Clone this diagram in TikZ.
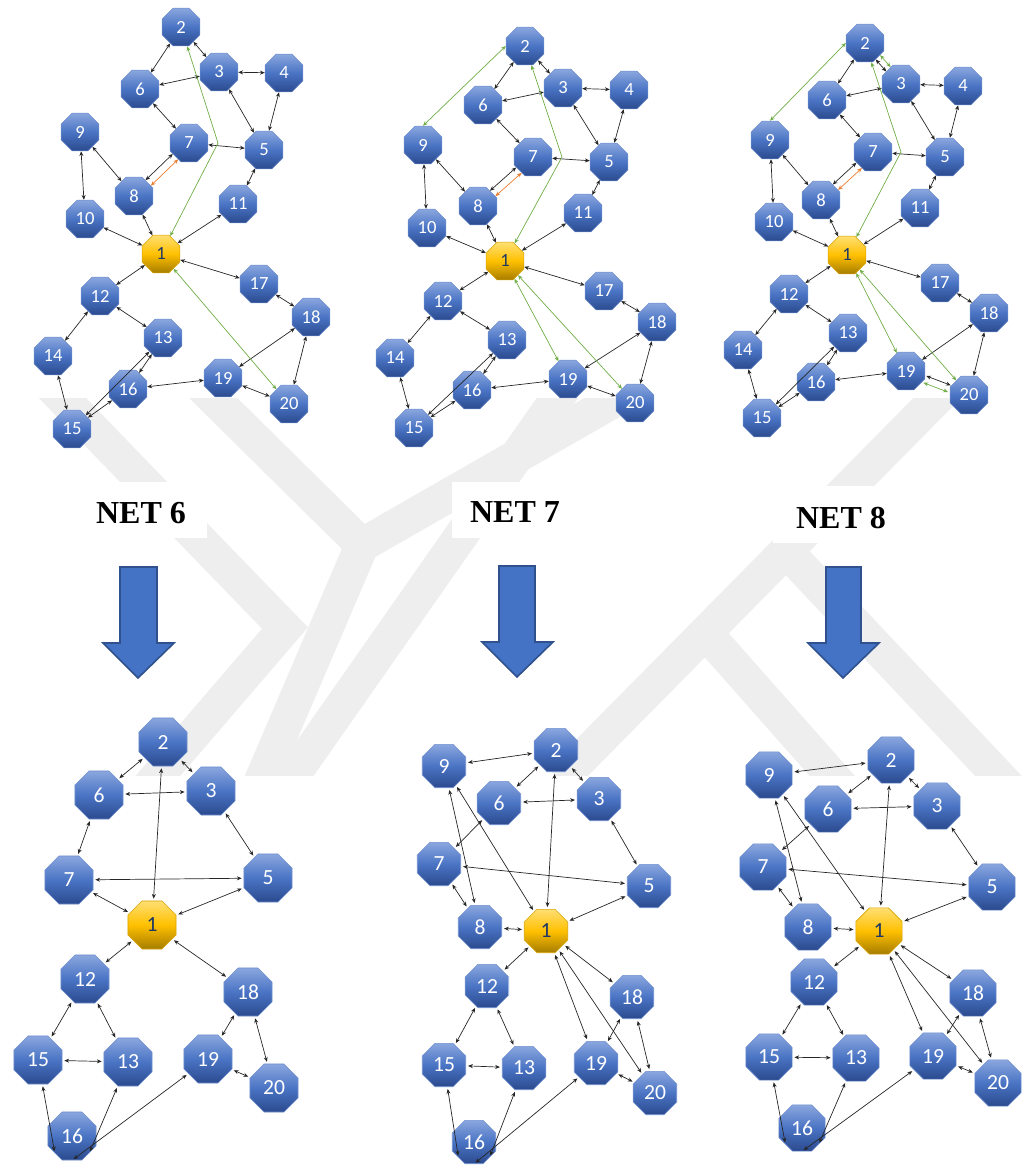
\documentclass[tikz,border=0pt]{standalone}
\usepackage{fontspec}
\setmainfont{Liberation Serif}
\newfontfamily\numfont{Carlito}
\usetikzlibrary{shapes.geometric,arrows.meta}
\definecolor{octtop}{HTML}{8AA6DE}
\definecolor{octmid}{HTML}{4A74C4}
\definecolor{octbot}{HTML}{2B4A8E}
\definecolor{octline}{HTML}{6F8FD0}
\definecolor{hubtop}{HTML}{FFDF73}
\definecolor{hubmid}{HTML}{FFC000}
\definecolor{hubbot}{HTML}{A57C00}
\definecolor{hubtxt}{HTML}{1F3864}
\definecolor{lnkgreen}{HTML}{70AD47}
\definecolor{lnkorange}{HTML}{ED7D31}
\definecolor{bigarrow}{HTML}{4472C4}
\definecolor{bigarrowline}{HTML}{2F528F}
\definecolor{wmark}{HTML}{EEEEEE}
\tikzset{
  oct/.style={regular polygon,regular polygon sides=8,minimum size=20.5pt,inner sep=0pt,
    top color=octtop,bottom color=octbot,middle color=octmid,draw=octline,line width=0.3pt,
    text=white,font=\numfont\fontsize{9.3}{9.3}\selectfont},
  octb/.style={oct,minimum size=26pt,font=\numfont\fontsize{10.8}{10.8}\selectfont},
  hub/.style={top color=hubtop,bottom color=hubbot,middle color=hubmid,draw=hubmid!85!black,text=hubtxt},
  link/.style={{Stealth[length=2.4pt,width=2pt]}-{Stealth[length=2.4pt,width=2pt]},line width=0.35pt,black!85},
  blink/.style={link,shorten <=1pt,shorten >=1pt},
  glink/.style={link,lnkgreen},
  olink/.style={link,lnkorange},
  wband/.style={wmark,line width=17pt,line join=miter},
  netlabel/.style={font=\fontsize{16}{16}\selectfont\bfseries,inner sep=0pt},
  downarrow/.style={fill=bigarrow,draw=bigarrowline,line width=0.8pt,line join=miter}
}
\begin{document}
\begin{tikzpicture}[x=0.5pt,y=-0.5pt]
\useasboundingbox (0,0) rectangle (1029,1174);
% faint logo behind everything
\begin{scope}
\clip (0,398) rectangle (1029,775);
\draw[wband] (45,380) -- (285,628) -- (120,820);
\draw[wband] (195,380) -- (362,545);
\draw[wband] (650,380) -- (362,545) -- (240,830);
\draw[wband] (570,380) -- (255,830);
\draw[wband] (955,380) -- (560,780);
\draw[wband] (712,640) -- (880,830);
\draw[wband] (790,555) -- (1040,820);
\end{scope}
\fill[white] (93,482) rectangle (207,538);
\fill[white] (452,482) rectangle (583,538);
\fill[white] (773,486) rectangle (895,543);

% NET 6 before
\node[oct] (a2) at (181,27) {2};
\node[oct] (a3) at (219,72) {3};
\node[oct] (a4) at (284,73) {4};
\node[oct] (a6) at (140,89) {6};
\node[oct] (a9) at (80,132) {9};
\node[oct] (a7) at (189,143) {7};
\node[oct] (a5) at (264,150) {5};
\node[oct] (a8) at (134,196) {8};
\node[oct] (a10) at (85,219) {10};
\node[oct] (a11) at (238,204) {11};
\node[oct,hub] (a1) at (161,254) {1};
\node[oct] (a12) at (100,296) {12};
\node[oct] (a17) at (259,284) {17};
\node[oct] (a18) at (311,317) {18};
\node[oct] (a13) at (163,338) {13};
\node[oct] (a14) at (53,356) {14};
\node[oct] (a16) at (128,389) {16};
\node[oct] (a19) at (223,378) {19};
\node[oct] (a20) at (289,404) {20};
\node[oct] (a15) at (72,429) {15};
\coordinate (ak) at (218,143);
\draw[link] (a2)--(a6); \draw[link] (a2)--(a3); \draw[link] (a3)--(a6); \draw[link] (a3)--(a4);
\draw[link] (a3)--(a5); \draw[link] (a4)--(a5); \draw[link] (a6)--(a7); \draw[link] (a7)--(a5);
\draw[link] (a9)--(a8); \draw[link] (a9)--(a10); \draw[link] (a8)--(a1); \draw[link] (a10)--(a1);
\draw[link] (a11)--(a5); \draw[link] (a11)--(a1); \draw[link] (a1)--(a12); \draw[link] (a1)--(a17);
\draw[link] (a17)--(a18); \draw[link] (a12)--(a14); \draw[link] (a12)--(a13); \draw[link] (a13)--(a15);
\draw[link] (a13)--(a16); \draw[link] (a14)--(a15); \draw[link] (a15)--(a16); \draw[link] (a16)--(a19);
\draw[link] (a19)--(a18); \draw[link] (a19)--(a20); \draw[link] (a18)--(a20);
\draw[link,transform canvas={xshift=-1.2pt,yshift=1.2pt}] (a8)--(a7);
\draw[olink,transform canvas={xshift=1.5pt,yshift=-1.5pt}] (a8)--(a7);
\draw[glink] (a2)--(ak)--(a1); \draw[glink] (a1)--(a20);

% NET 7 before
\node[oct] (b2) at (525,46) {2};
\node[oct] (b3) at (563,88) {3};
\node[oct] (b4) at (629,90) {4};
\node[oct] (b6) at (483,105) {6};
\node[oct] (b9) at (423,145) {9};
\node[oct] (b7) at (533,157) {7};
\node[oct] (b5) at (609,162) {5};
\node[oct] (b8) at (478,206) {8};
\node[oct] (b10) at (427,228) {10};
\node[oct] (b11) at (583,213) {11};
\node[oct,hub] (b1) at (505,261) {1};
\node[oct] (b12) at (443,301) {12};
\node[oct] (b17) at (604,291) {17};
\node[oct] (b18) at (657,322) {18};
\node[oct] (b13) at (507,340) {13};
\node[oct] (b14) at (395,358) {14};
\node[oct] (b16) at (472,390) {16};
\node[oct] (b19) at (568,379) {19};
\node[oct] (b20) at (635,403) {20};
\node[oct] (b15) at (414,428) {15};
\coordinate (bk) at (562,157);
\draw[link] (b2)--(b6); \draw[link] (b2)--(b3); \draw[link] (b3)--(b6); \draw[link] (b3)--(b4);
\draw[link] (b3)--(b5); \draw[link] (b4)--(b5); \draw[link] (b6)--(b7); \draw[link] (b7)--(b5);
\draw[link] (b9)--(b8); \draw[link] (b9)--(b10); \draw[link] (b8)--(b1); \draw[link] (b10)--(b1);
\draw[link] (b11)--(b5); \draw[link] (b11)--(b1); \draw[link] (b1)--(b12); \draw[link] (b1)--(b17);
\draw[link] (b17)--(b18); \draw[link] (b12)--(b14); \draw[link] (b12)--(b13); \draw[link] (b13)--(b15);
\draw[link] (b13)--(b16); \draw[link] (b14)--(b15); \draw[link] (b15)--(b16); \draw[link] (b16)--(b19);
\draw[link] (b19)--(b18); \draw[link] (b19)--(b20); \draw[link] (b18)--(b20);
\draw[link,transform canvas={xshift=-1.2pt,yshift=1.2pt}] (b8)--(b7);
\draw[olink,transform canvas={xshift=1.5pt,yshift=-1.5pt}] (b8)--(b7);
\draw[glink] (b2)--(bk)--(b1); \draw[glink] (b2.west)--(b9.north);
\draw[glink] (b1)--(b19); \draw[glink] (b1)--(b20);

% NET 8 before
\node[oct] (c2) at (865,43) {2};
\node[oct] (c3) at (901,84) {3};
\node[oct] (c4) at (963,86) {4};
\node[oct] (c6) at (827,100) {6};
\node[oct] (c9) at (770,140) {9};
\node[oct] (c7) at (873,152) {7};
\node[oct] (c5) at (945,157) {5};
\node[oct] (c8) at (821,200) {8};
\node[oct] (c10) at (774,222) {10};
\node[oct] (c11) at (920,208) {11};
\node[oct,hub] (c1) at (847,255) {1};
\node[oct] (c12) at (789,294) {12};
\node[oct] (c17) at (940,283) {17};
\node[oct] (c18) at (989,313) {18};
\node[oct] (c13) at (848,333) {13};
\node[oct] (c14) at (743,350) {14};
\node[oct] (c16) at (816,382) {16};
\node[oct] (c19) at (906,371) {19};
\node[oct] (c20) at (969,395) {20};
\node[oct] (c15) at (762,418) {15};
\coordinate (ck) at (901,152);
\draw[link] (c2)--(c6); \draw[link] (c3)--(c6); \draw[link] (c3)--(c4);
\draw[link] (c3)--(c5); \draw[link] (c4)--(c5); \draw[link] (c6)--(c7); \draw[link] (c7)--(c5);
\draw[link] (c9)--(c8); \draw[link] (c9)--(c10); \draw[link] (c8)--(c1); \draw[link] (c10)--(c1);
\draw[link] (c11)--(c5); \draw[link] (c11)--(c1); \draw[link] (c1)--(c12); \draw[link] (c1)--(c17);
\draw[link] (c17)--(c18); \draw[link] (c12)--(c14); \draw[link] (c12)--(c13); \draw[link] (c13)--(c15);
\draw[link] (c13)--(c16); \draw[link] (c14)--(c15); \draw[link] (c15)--(c16); \draw[link] (c16)--(c19);
\draw[link] (c19)--(c18); \draw[link] (c18)--(c20);
\draw[link,transform canvas={xshift=-1.2pt,yshift=1.2pt}] (c8)--(c7);
\draw[olink,transform canvas={xshift=1.5pt,yshift=-1.5pt}] (c8)--(c7);
\draw[link,transform canvas={xshift=-1pt,yshift=-1pt}] (c2)--(c3);
\draw[glink,transform canvas={xshift=1.2pt,yshift=1.2pt}] (c2)--(c3);
\draw[link,transform canvas={xshift=0.5pt,yshift=1.2pt}] (c19)--(c20);
\draw[glink,transform canvas={xshift=-0.9pt,yshift=-2.2pt}] (c19)--(c20);
\draw[glink] (c2)--(ck)--(c1); \draw[glink] (c2.west)--(c9.north);
\draw[glink] (c1)--(c19); \draw[glink] (c1)--(c20);

% labels and arrows
\node[netlabel] (net6) at (141,513) {NET 6};
\node[netlabel] (net7) at (515,512) {NET 7};
\node[netlabel] (net8) at (841,518) {NET 8};
\draw[downarrow] (120,567) -- (157,567) -- (157,643) -- (174,643) -- (138,678) -- (103,643) -- (120,643) -- cycle;
\draw[downarrow] (499,566) -- (535,566) -- (535,642) -- (553,642) -- (517,677) -- (482,642) -- (499,642) -- cycle;
\draw[downarrow] (826,567) -- (861,567) -- (861,643) -- (879,643) -- (843,678) -- (808,643) -- (826,643) -- cycle;

% NET 6 after
\node[octb] (d2) at (163,742) {2};
\node[octb] (d6) at (99,795) {6};
\node[octb] (d3) at (211,791) {3};
\node[octb] (d7) at (69,880) {7};
\node[octb] (d5) at (268,878) {5};
\node[octb,hub] (d1) at (152,925) {1};
\node[octb] (d12) at (85,979) {12};
\node[octb] (d18) at (248,992) {18};
\node[octb] (d15) at (38,1060) {15};
\node[octb] (d13) at (128,1062) {13};
\node[octb] (d19) at (208,1059) {19};
\node[octb] (d20) at (274,1088) {20};
\node[octb] (d16) at (72,1136) {16};
\draw[blink] (d2)--(d6); \draw[blink] (d2)--(d3); \draw[blink] (d2)--(d1); \draw[blink] (d6)--(d3);
\draw[blink] (d6)--(d7); \draw[blink] (d3)--(d5); \draw[blink] (d7)--(d5); \draw[blink] (d7)--(d1);
\draw[blink] (d5)--(d1); \draw[blink] (d1)--(d12); \draw[blink] (d1)--(d18); \draw[blink] (d12)--(d15);
\draw[blink] (d12)--(d13); \draw[blink] (d13)--(d15); \draw[blink] (d18)--(d19); \draw[blink] (d18)--(d20);
\draw[blink] (d19)--(d20); \draw[blink] (d15)--(d16.south west); \draw[blink] (d16.south east)--(d13);
\draw[blink] (d16.south)--(d19);

% NET 7 after
\node[octb,minimum size=23.5pt] (e2) at (556,750) {2};
\node[octb,minimum size=23.5pt] (e9) at (444,766) {9};
\node[octb,minimum size=23.5pt] (e6) at (499,803) {6};
\node[octb,minimum size=23.5pt] (e3) at (599,799) {3};
\node[octb,minimum size=23.5pt] (e7) at (439,864) {7};
\node[octb,minimum size=23.5pt] (e5) at (649,886) {5};
\node[octb,minimum size=23.5pt] (e8) at (480,927) {8};
\node[octb,minimum size=23.5pt,hub] (e1) at (546,931) {1};
\node[octb,minimum size=23.5pt] (e12) at (487,986) {12};
\node[octb,minimum size=23.5pt] (e18) at (632,997) {18};
\node[octb,minimum size=23.5pt] (e15) at (444,1065) {15};
\node[octb,minimum size=23.5pt] (e13) at (524,1068) {13};
\node[octb,minimum size=23.5pt] (e19) at (596,1063) {19};
\node[octb,minimum size=23.5pt] (e20) at (655,1093) {20};
\node[octb,minimum size=23.5pt] (e16) at (474,1142) {16};
\draw[blink] (e9)--(e2); \draw[blink] (e2)--(e6); \draw[blink] (e2)--(e3); \draw[blink] (e2)--(e1);
\draw[blink] (e6)--(e3); \draw[blink] (e3)--(e5); \draw[blink] (e6)--(e7); \draw[blink] (e7)--(e5);
\draw[blink] (e7)--(e8); \draw[blink] (e9)--(e8); \draw[blink] (e9)--(e1); \draw[blink] (e8)--(e1);
\draw[blink] (e5)--(e1); \draw[blink] (e1)--(e12); \draw[blink] (e1)--(e18); \draw[blink] (e1)--(e19);
\draw[blink] (e1)--(e20); \draw[blink] (e12)--(e15); \draw[blink] (e12)--(e13); \draw[blink] (e13)--(e15);
\draw[blink] (e18)--(e19); \draw[blink] (e18)--(e20); \draw[blink] (e19)--(e20);
\draw[blink] (e15)--(e16.south west); \draw[blink] (e16.south east)--(e13); \draw[blink] (e16.south)--(e19);

% NET 8 after
\node[octb,minimum size=25pt] (f2) at (891,760) {2};
\node[octb,minimum size=25pt] (f9) at (769,775) {9};
\node[octb,minimum size=25pt] (f6) at (828,809) {6};
\node[octb,minimum size=25pt] (f3) at (937,806) {3};
\node[octb,minimum size=25pt] (f7) at (763,867) {7};
\node[octb,minimum size=25pt] (f5) at (992,887) {5};
\node[octb,minimum size=25pt] (f8) at (808,927) {8};
\node[octb,minimum size=25pt,hub] (f1) at (879,931) {1};
\node[octb,minimum size=25pt] (f12) at (814,982) {12};
\node[octb,minimum size=25pt] (f18) at (973,993) {18};
\node[octb,minimum size=25pt] (f15) at (769,1057) {15};
\node[octb,minimum size=25pt] (f13) at (856,1058) {13};
\node[octb,minimum size=25pt] (f19) at (933,1056) {19};
\node[octb,minimum size=25pt] (f20) at (998,1083) {20};
\node[octb,minimum size=25pt] (f16) at (802,1128) {16};
\draw[blink] (f9)--(f2); \draw[blink] (f2)--(f6); \draw[blink] (f2)--(f3); \draw[blink] (f2)--(f1);
\draw[blink] (f6)--(f3); \draw[blink] (f3)--(f5); \draw[blink] (f6)--(f7); \draw[blink] (f7)--(f5);
\draw[blink] (f7)--(f8); \draw[blink] (f9)--(f8); \draw[blink] (f9)--(f1); \draw[blink] (f8)--(f1);
\draw[blink] (f5)--(f1); \draw[blink] (f1)--(f12); \draw[blink] (f1)--(f18); \draw[blink] (f1)--(f19);
\draw[blink] (f1)--(f20); \draw[blink] (f12)--(f15); \draw[blink] (f12)--(f13); \draw[blink] (f13)--(f15);
\draw[blink] (f18)--(f19); \draw[blink] (f18)--(f20); \draw[blink] (f19)--(f20);
\draw[blink] (f15)--(f16.south west); \draw[blink] (f16.south east)--(f13); \draw[blink] (f16.south)--(f19);
\end{tikzpicture}
\end{document}
